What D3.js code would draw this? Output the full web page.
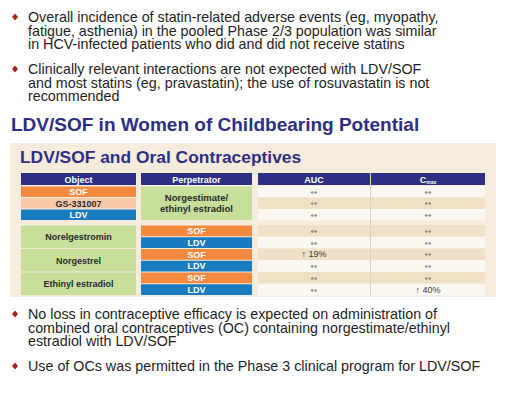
<!DOCTYPE html>
<html><head><meta charset="utf-8">
<script src="https://cdn.jsdelivr.net/npm/d3@7"></script>
<style>body{margin:0;background:#fff}svg{display:block}</style>
</head><body>
<svg id="c" width="520" height="413"></svg>
<script>
// ---- data ----
const bulletsTop = [
  ["Overall incidence of statin-related adverse events (eg, myopathy,",
   "fatigue, asthenia) in the pooled Phase 2/3 population was similar",
   "in HCV-infected patients who did and did not receive statins"],
  ["Clinically relevant interactions are not expected with LDV/SOF",
   "and most statins (eg, pravastatin); the use of rosuvastatin is not",
   "recommended"]
];
const bulletsBottom = [
  ["No loss in contraceptive efficacy is expected on administration of",
   "combined oral contraceptives (OC) containing norgestimate/ethinyl",
   "estradiol with LDV/SOF"],
  ["Use of OCs was permitted in the Phase 3 clinical program for LDV/SOF"]
];
const heading = "LDV/SOF in Women of Childbearing Potential";
const panelTitle = "LDV/SOF and Oral Contraceptives";
const columnHeaders = ["Object", "Perpetrator", "AUC", "Cmax"];
const rowSection = [0, 0, 0, 1, 1, 1, 1, 1, 1];
const rowObject = ["SOF", "GS-331007", "LDV", "Norelgestromin", "Norelgestromin",
  "Norgestrel", "Norgestrel", "Ethinyl estradiol", "Ethinyl estradiol"];
const rowPerpetrator = ["Norgestimate/ethinyl estradiol", "Norgestimate/ethinyl estradiol",
  "Norgestimate/ethinyl estradiol", "SOF", "LDV", "SOF", "LDV", "SOF", "LDV"];
const aucChange = ["↔", "↔", "↔", "↔", "↔", "↑ 19%", "↔", "↔", "↔"];
const cmaxChange = ["↔", "↔", "↔", "↔", "↔", "↔", "↔", "↔", "↑ 40%"];

// ---- styles ----
const NAVY = "#2c2f84";
const cellFill = d3.scaleOrdinal()
  .domain(["SOF", "GS-331007", "LDV"])
  .range(["#f4893f", "#f9c9aa", "#1a7cc0"])
  .unknown("#c8df9b");
const cellText = d3.scaleOrdinal()
  .domain(["SOF", "GS-331007", "LDV"])
  .range(["#ffffff", "#2a2a2a", "#ffffff"])
  .unknown("#2a2a2a");

const svg = d3.select("#c");
const FONT = "'Liberation Sans', Arial, sans-serif";

function bullets(groups, startY, lineH, paraGap) {
  let y = startY;
  groups.forEach(lines => {
    const g = svg.append("g");
    g.append("path")
      .attr("d", `M15,${y - 8.5} L18,${y - 5} L15,${y - 1.5} L12,${y - 5} Z`)
      .attr("fill", "#b0201e");
    const t = g.append("text").attr("x", 28).attr("y", y)
      .attr("font-family", FONT).attr("font-size", 14.3).attr("fill", "#1e1e1e");
    lines.forEach((s, i) => {
      t.append("tspan").attr("x", 28).attr("y", y + i * lineH).text(s);
    });
    y += lines.length * lineH + paraGap;
  });
}
bullets(bulletsTop, 22, 13.5, 11.5);
bullets(bulletsBottom, 319, 13.5, 11.5);

svg.append("text").attr("x", 11).attr("y", 131)
  .attr("font-family", FONT).attr("font-weight", "bold").attr("font-size", 19)
  .attr("fill", NAVY).text(heading);

// panel
svg.append("rect").attr("x", 10).attr("y", 143).attr("width", 486).attr("height", 154)
  .attr("fill", "#f5ecde");
svg.append("text").attr("x", 20).attr("y", 163)
  .attr("font-family", FONT).attr("font-weight", "bold").attr("font-size", 17.4)
  .attr("fill", NAVY).text(panelTitle);

// column scale
const colX = d3.scaleOrdinal().domain(columnHeaders).range([21, 141, 258, 371]);
const colW = d3.scaleOrdinal().domain(columnHeaders).range([115, 111, 112, 114]);

// row scales (two sections)
const idx = d3.range(rowObject.length);
const yTop = d3.scaleBand().domain(idx.filter(i => rowSection[i] === 0)).range([186, 220.5]);
const yBot = d3.scaleBand().domain(idx.filter(i => rowSection[i] === 1)).range([225, 295.5]);
const yRow = i => rowSection[i] === 0 ? yTop(i) : yBot(i);
const hRow = i => rowSection[i] === 0 ? yTop.bandwidth() : yBot.bandwidth();

// header
const hdr = svg.append("g");
columnHeaders.forEach(c => {
  hdr.append("rect").attr("x", colX(c)).attr("y", 173).attr("width", colW(c)).attr("height", 12)
    .attr("fill", NAVY);
  const t = hdr.append("text").attr("x", colX(c) + colW(c) / 2).attr("y", 182.5)
    .attr("text-anchor", "middle").attr("font-family", FONT).attr("font-weight", "bold")
    .attr("font-size", 9).attr("fill", "#fff");
  if (c === "Cmax") {
    t.append("tspan").text("C");
    t.append("tspan").attr("font-size", 5).attr("dy", 1.5).text("max");
  } else t.text(c);
});

// merged groups
function groups(values) {
  const out = [];
  values.forEach((v, i) => {
    const last = out[out.length - 1];
    if (last && last.v === v && rowSection[last.end] === rowSection[i]) last.end = i;
    else out.push({ v, start: i, end: i });
  });
  return out;
}
function drawLabelCol(col, values) {
  const g = svg.append("g");
  groups(values).forEach(gr => {
    const y0 = yRow(gr.start), y1 = yRow(gr.end) + hRow(gr.end);
    g.append("rect").attr("x", colX(col)).attr("y", y0 + 0.5)
      .attr("width", colW(col)).attr("height", y1 - y0 - 1)
      .attr("fill", cellFill(gr.v));
    const lines = gr.v.includes("/") && gr.v.length > 10
      ? [gr.v.split("/")[0] + "/", gr.v.split("/")[1]] : [gr.v];
    const cy = (y0 + y1) / 2;
    const t = g.append("text").attr("text-anchor", "middle").attr("font-family", FONT)
      .attr("font-weight", "bold").attr("font-size", lines.length > 1 ? 9.5 : 9)
      .attr("fill", cellText(gr.v));
    lines.forEach((l, k) => {
      t.append("tspan").attr("x", colX(col) + colW(col) / 2)
        .attr("y", cy + 3.3 + (k - (lines.length - 1) / 2) * 10.5).text(l);
    });
  });
}
drawLabelCol("Object", rowObject);
drawLabelCol("Perpetrator", rowPerpetrator);

function drawValueCol(col, values) {
  const g = svg.append("g");
  values.forEach((v, i) => {
    g.append("rect").attr("x", colX(col)).attr("y", yRow(i))
      .attr("width", colW(col)).attr("height", hRow(i))
      .attr("fill", i % 2 === 0 ? "#fbf8f1" : "#f0e0c6");
    g.append("text").attr("x", colX(col) + colW(col) / 2).attr("y", yRow(i) + hRow(i) / 2 + 3)
      .attr("text-anchor", "middle")
      .attr("font-family", v === "↔" ? "'DejaVu Sans', sans-serif" : FONT)
      .attr("font-size", v === "↔" ? 8 : 9)
      .attr("fill", v === "↔" ? "#7a7a7a" : "#3a3a3a").text(v);
  });
}
drawValueCol("AUC", aucChange);
drawValueCol("Cmax", cmaxChange);
// divider between AUC and Cmax
svg.append("line").attr("x1", 370.5).attr("x2", 370.5).attr("y1", 173).attr("y2", 295.5)
  .attr("stroke", "#d9d2c4").attr("stroke-width", 1);
</script>
</body></html>
